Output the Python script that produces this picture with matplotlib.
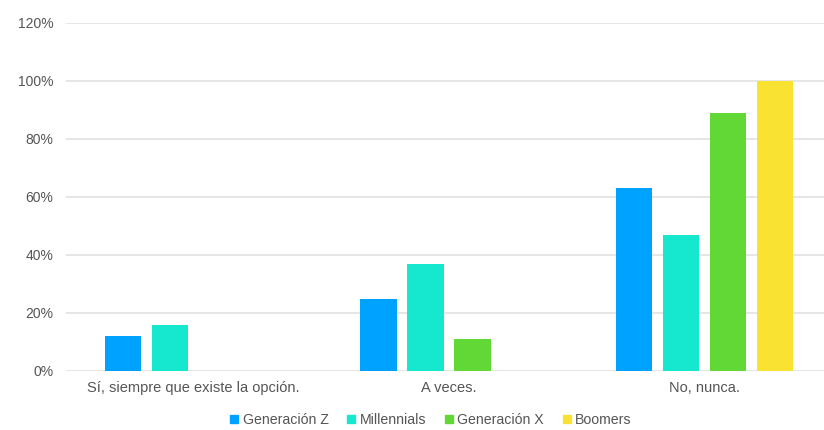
import matplotlib.pyplot as plt
import numpy as np
from matplotlib.lines import Line2D
from matplotlib.ticker import FuncFormatter

categories = ["Sí, siempre que existe la opción.", "A veces.", "No, nunca."]
series_names = ["Generación Z", "Millennials", "Generación X", "Boomers"]
gen_z = [12, 25, 63]
millennials = [16, 37, 47]
gen_x = [0, 11, 89]
boomers = [0, 0, 100]
colors = ["#00A2FF", "#16E7CF", "#61D836", "#FAE232"]

plt.rcParams['font.family'] = ['Liberation Sans', 'DejaVu Sans']

fig = plt.figure(figsize=(8.24, 4.30), dpi=100)
ax = fig.add_axes([66 / 824, 59 / 430, 766 / 824, 348 / 430])

x = np.arange(len(categories))
slot = 0.184
width = 0.142
for i, (vals, col) in enumerate(zip([gen_z, millennials, gen_x, boomers], colors)):
    offs = (i - 1.5) * slot
    ax.bar(x + offs, vals, width=width, color=col, zorder=3, label=series_names[i])

ax.set_xlim(-0.5, 2.5)
ax.set_ylim(0, 120)
ax.set_yticks(range(0, 121, 20))
ax.yaxis.set_major_formatter(FuncFormatter(lambda v, p: f"{int(v)}%"))
ax.set_xticks(x)
ax.set_xticklabels(categories)
ax.grid(axis='y', color='#e2e2e2', linewidth=1.2, zorder=0)
ax.tick_params(axis='both', length=0, colors='#555555', labelsize=10)
ax.tick_params(axis='x', labelsize=10.5, pad=7)
ax.tick_params(axis='y', pad=9)
for s in ax.spines.values():
    s.set_visible(False)

handles = [Line2D([0], [0], marker='s', color='none', markerfacecolor=c,
                  markeredgecolor=c, markersize=6) for c in colors]
leg = fig.legend(handles, series_names, loc='center', bbox_to_anchor=(430 / 824, 1 - 420 / 430),
                 ncol=4, frameon=False, fontsize=10.2, handlelength=0.8, handletextpad=0.2,
                 columnspacing=1.2, labelcolor='#555555')

fig.savefig("out.png", dpi=100)
